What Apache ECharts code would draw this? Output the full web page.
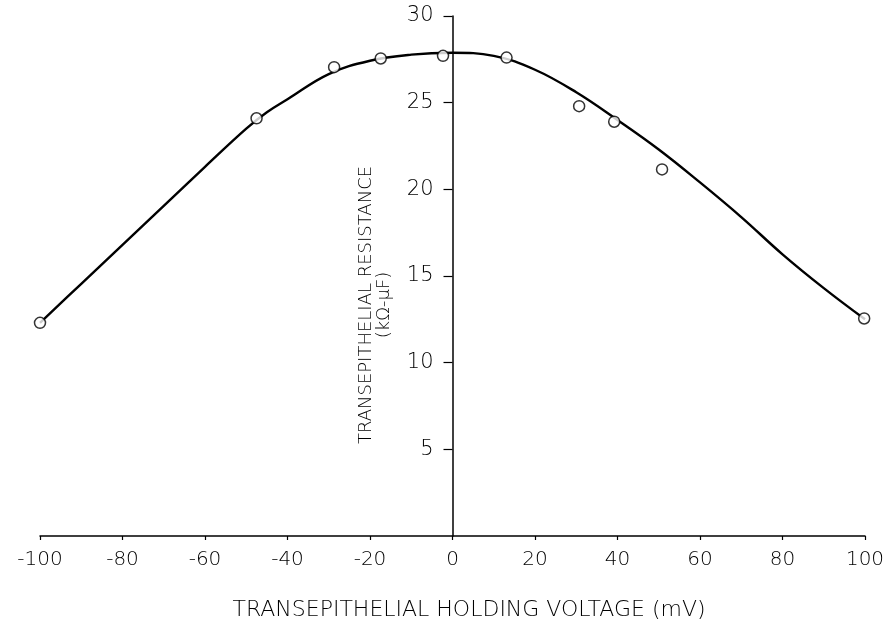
<!DOCTYPE html>
<html>
<head>
<meta charset="utf-8">
<script src="https://cdn.jsdelivr.net/npm/echarts@6/dist/echarts.min.js"></script>
<style>
  html, body { margin: 0; padding: 0; background: #fff; }
  #chart { width: 890px; height: 621px; }
</style>
</head>
<body>
<div id="chart"></div>
<script>
// Measured resistance at each holding voltage (open circles)
const voltagePoints = [-100, -47.5, -28.7, -17.4, -2.3, 13.1, 30.7, 39.2, 50.8, 99.8];
const resistancePoints = [12.3, 24.1, 27.05, 27.55, 27.7, 27.6, 24.8, 23.9, 21.15, 12.55];

// Hand-drawn fitted curve through the measurements
const curveVoltage = [-100, -90, -80, -70, -60, -50, -45, -40, -30, -20, -10, 0, 10, 20, 30, 40, 50, 60, 70, 80, 90, 100];
const curveResistance = [12.3, 14.55, 16.8, 19.05, 21.3, 23.5, 24.45, 25.2, 26.65, 27.42, 27.77, 27.88, 27.7, 26.9, 25.6, 24.0, 22.3, 20.4, 18.4, 16.25, 14.3, 12.5];

// Axis ticks
const xTicks = { min: -100, max: 100, step: 20 };
const yTicks = { min: 0, max: 30, step: 5 };

const xTitle = 'TRANSEPITHELIAL HOLDING VOLTAGE (mV)';
const yTitle = 'TRANSEPITHELIAL RESISTANCE';
const yUnits = '(kΩ-μF)';

const FONT = '"DejaVu Sans", sans-serif';
const INK = '#000';

const GRID = { left: 40, right: 25, top: 16, bottom: 85 };
const plotWidth = 890 - GRID.left - GRID.right;

const chart = echarts.init(document.getElementById('chart'), null, { renderer: 'canvas' });

chart.setOption({
  backgroundColor: '#fff',
  animation: false,
  grid: Object.assign({ outerBoundsMode: 'none', containLabel: false }, GRID),
  xAxis: {
    type: 'value',
    min: xTicks.min, max: xTicks.max, interval: xTicks.step,
    axisLine: { onZero: false, lineStyle: { color: INK, width: 1.5 } },
    axisTick: { show: true, length: 4, lineStyle: { color: INK, width: 1.2 } },
    axisLabel: {
      margin: 14, color: INK, fontFamily: FONT, fontSize: 20, fontWeight: 200,
      formatter: v => String(v)
    },
    splitLine: { show: false }
  },
  yAxis: {
    type: 'value',
    position: 'left',
    // vertical axis drawn through x = 0 (centre of the symmetric x range)
    offset: -plotWidth / 2,
    min: yTicks.min, max: yTicks.max, interval: yTicks.step,
    axisLine: { show: true, onZero: false, lineStyle: { color: INK, width: 1.5 } },
    axisTick: { show: true, length: 9, lineStyle: { color: INK, width: 1.2 } },
    axisLabel: {
      margin: 19, color: INK, fontFamily: FONT, fontSize: 21, fontWeight: 200,
      showMinLabel: false
    },
    splitLine: { show: false }
  },
  graphic: [
    {
      type: 'text', x: 469, y: 610,
      style: { text: xTitle, font: '200 22px ' + FONT, fill: INK, align: 'center', verticalAlign: 'middle' }
    },
    {
      type: 'text', x: 366, y: 305, rotation: Math.PI / 2,
      style: { text: yTitle, font: '200 18px ' + FONT, fill: INK, align: 'center', verticalAlign: 'middle' }
    },
    {
      type: 'text', x: 384, y: 305, rotation: Math.PI / 2,
      style: { text: yUnits, font: '200 18px ' + FONT, fill: INK, align: 'center', verticalAlign: 'middle' }
    }
  ],
  series: [
    {
      type: 'line',
      data: curveVoltage.map((v, i) => [v, curveResistance[i]]),
      smooth: 0.4,
      showSymbol: false,
      lineStyle: { color: INK, width: 2.4 },
      z: 2
    },
    {
      type: 'scatter',
      data: voltagePoints.map((v, i) => [v, resistancePoints[i]]),
      symbol: 'circle',
      symbolSize: 11,
      itemStyle: { color: '#fff', borderColor: INK, borderWidth: 1.5 },
      z: 3
    }
  ]
});
</script>
</body>
</html>
